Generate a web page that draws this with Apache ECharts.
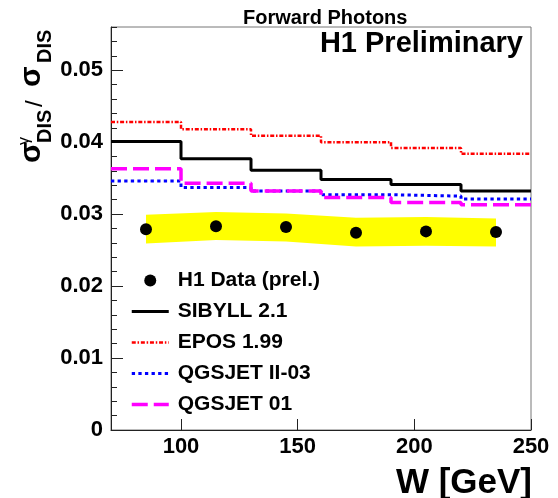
<!DOCTYPE html>
<html>
<head>
<meta charset="utf-8">
<title>Forward Photons</title>
<script src="https://cdn.jsdelivr.net/npm/echarts@6.0.0/dist/echarts.min.js"></script>
<style>
	html,body{margin:0;padding:0;background:#fff;}
	#chart{width:558px;height:498px;}
</style>
</head>
<body>
<div id="chart"></div>
<script>
// bin edges in W [GeV]
var binEdges=[70,100,130,160,190,220,250];
// model predictions per bin
var sibyll=[0.0401,0.0377,0.0361,0.0348,0.0341,0.0332];
var epos=[0.0428,0.0418,0.0409,0.0400,0.0392,0.0384];
var qgsjetII=[0.0346,0.0337,0.0332,0.0327,0.0325,0.0321];
var qgsjet01=[0.0363,0.0343,0.0332,0.0323,0.0316,0.0313];
// H1 data (bin centres)
var dataW=[85,115,145,175,205,235];
var dataVal=[0.0279,0.0283,0.0282,0.0274,0.0276,0.0275];
// systematic band
var bandLow=[0.0259,0.0264,0.0262,0.0255,0.0256,0.0255];
var bandHigh=[0.0299,0.0303,0.0301,0.0295,0.0296,0.0294];
var xTicks=[100,150,200,250];

var font='"Liberation Sans", Arial, Helvetica, sans-serif';

function steps(vals){
	var out=[];
	for(var i=0;i<vals.length;i++){
		out.push([binEdges[i],vals[i]]);
	}
	out.push([binEdges[binEdges.length-1],vals[vals.length-1]]);
	return out;
}

var bandData=[];
for(var i=0;i<dataW.length;i++){
	bandData.push([dataW[i],bandLow[i],bandHigh[i]]);
}
var points=[];
for(var i=0;i<dataW.length;i++){
	points.push([dataW[i],dataVal[i]]);
}

// legend entries for the model lines: line only, no marker
function lineEntry(name,w){
	return {name:name,itemStyle:{opacity:0},lineStyle:{width:w}};
}

var myChart=echarts.init(document.getElementById('chart'));

var option={
	animation:false,
	title:[
		{text:'Forward Photons',left:238,top:3,textStyle:{fontFamily:font,fontSize:20,fontWeight:'bold',color:'#000'}},
		{text:'H1 Preliminary',right:30,top:24,textStyle:{fontFamily:font,fontSize:29,fontWeight:'bold',color:'#000'}}
	],
	legend:{
		orient:'vertical',
		left:125,
		top:265,
		itemWidth:37,
		itemHeight:12,
		itemGap:10,
		data:[
			{name:'H1 Data (prel.)'},
			lineEntry('SIBYLL 2.1',3),
			lineEntry('EPOS 1.99',2.5),
			lineEntry('QGSJET II-03',3),
			lineEntry('QGSJET 01',3.5)
		],
		textStyle:{fontFamily:font,fontSize:21,fontWeight:'bold',color:'#000',lineHeight:21,padding:[0,0,0,4]}
	},
	grid:{left:111,right:27,top:27,bottom:68,show:true,borderColor:'#777',borderWidth:1,backgroundColor:'transparent'},
	xAxis:{
		type:'value',min:70,max:250,interval:10,
		axisLine:{lineStyle:{color:'#222',width:1}},
		axisTick:{inside:true,length:11,customValues:xTicks,lineStyle:{color:'#222'}},
		axisLabel:{customValues:xTicks,margin:6,fontFamily:font,fontSize:22,fontWeight:'bold',color:'#000'},
		splitLine:{show:false}
	},
	yAxis:[
		{
			type:'value',min:0,max:0.056,interval:0.01,
			axisLine:{show:true,lineStyle:{color:'#222',width:1}},
			axisTick:{inside:true,length:12,lineStyle:{color:'#222'}},
			axisLabel:{margin:8,fontFamily:font,fontSize:22,fontWeight:'bold',color:'#000',showMaxLabel:false,
				formatter:function(v){
					var k=Math.round(v*100);
					if(Math.abs(v*100-k)>1e-6) return '';
					return k===0?'0':(k/100).toFixed(2);
				}},
			splitLine:{show:false}
		},
		{
			type:'value',min:0,max:0.056,interval:0.002,position:'left',
			axisLine:{show:false},
			axisTick:{show:true,inside:true,length:6,lineStyle:{color:'#222'}},
			axisLabel:{show:false},
			splitLine:{show:false}
		}
	],
	graphic:[
		{
			// y title, reads bottom to top
			type:'group',x:42,y:163,rotation:Math.PI/2,
			children:[
				{type:'text',x:0,y:-10.5,style:{text:'σ',font:'bold 30px '+font,fill:'#000',verticalAlign:'middle'}},
				{type:'text',x:18,y:-17,style:{text:'γ',font:'16px '+font,fill:'#000',verticalAlign:'middle'}},
				{type:'text',x:20,y:3,style:{text:'DIS',font:'bold 20px '+font,fill:'#000',verticalAlign:'middle'}},
				{type:'text',x:56,y:-7,style:{text:'/',font:'24px '+font,fill:'#000',verticalAlign:'middle'}},
				{type:'text',x:76,y:-10.5,style:{text:'σ',font:'bold 30px '+font,fill:'#000',verticalAlign:'middle'}},
				{type:'text',x:100,y:3,style:{text:'DIS',font:'bold 20px '+font,fill:'#000',verticalAlign:'middle'}}
			]
		},
		{
			type:'text',right:26,top:466,
			style:{text:'W [GeV]',font:'bold 35px '+font,fill:'#000'}
		}
	],
	series:[
		{
			name:'band',type:'custom',z:1,silent:true,
			encode:{x:0,y:[1,2]},
			data:bandData,
			renderItem:function(params,api){
				if(params.dataIndex!==0) return null;
				var pts=[];
				for(var i=0;i<bandData.length;i++){
					pts.push(api.coord([bandData[i][0],bandData[i][2]]));
				}
				for(var j=bandData.length-1;j>=0;j--){
					pts.push(api.coord([bandData[j][0],bandData[j][1]]));
				}
				return {type:'polygon',shape:{points:pts},style:{fill:'#ffff00'}};
			}
		},
		{
			name:'SIBYLL 2.1',type:'line',step:'end',showSymbol:false,symbol:'none',z:3,
			data:steps(sibyll),
			lineStyle:{color:'#000',width:3},itemStyle:{color:'#000'}
		},
		{
			name:'EPOS 1.99',type:'line',step:'end',showSymbol:false,symbol:'none',z:3,
			data:steps(epos),
			lineStyle:{color:'#ff0000',width:2.5,type:[4,1.8,1.5,1.8]},itemStyle:{color:'#ff0000'}
		},
		{
			name:'QGSJET II-03',type:'line',step:'end',showSymbol:false,symbol:'none',z:3,
			data:steps(qgsjetII),
			lineStyle:{color:'#0000ff',width:3,type:[3.3,3.3]},itemStyle:{color:'#0000ff'}
		},
		{
			name:'QGSJET 01',type:'line',step:'end',showSymbol:false,symbol:'none',z:3,
			data:steps(qgsjet01),
			lineStyle:{color:'#ff00ff',width:3.5,type:[16,6]},itemStyle:{color:'#ff00ff'}
		},
		{
			name:'H1 Data (prel.)',type:'scatter',z:4,
			symbol:'circle',symbolSize:12,
			data:points,
			itemStyle:{color:'#000',opacity:1}
		}
	]
};

myChart.setOption(option);
</script>
</body>
</html>
